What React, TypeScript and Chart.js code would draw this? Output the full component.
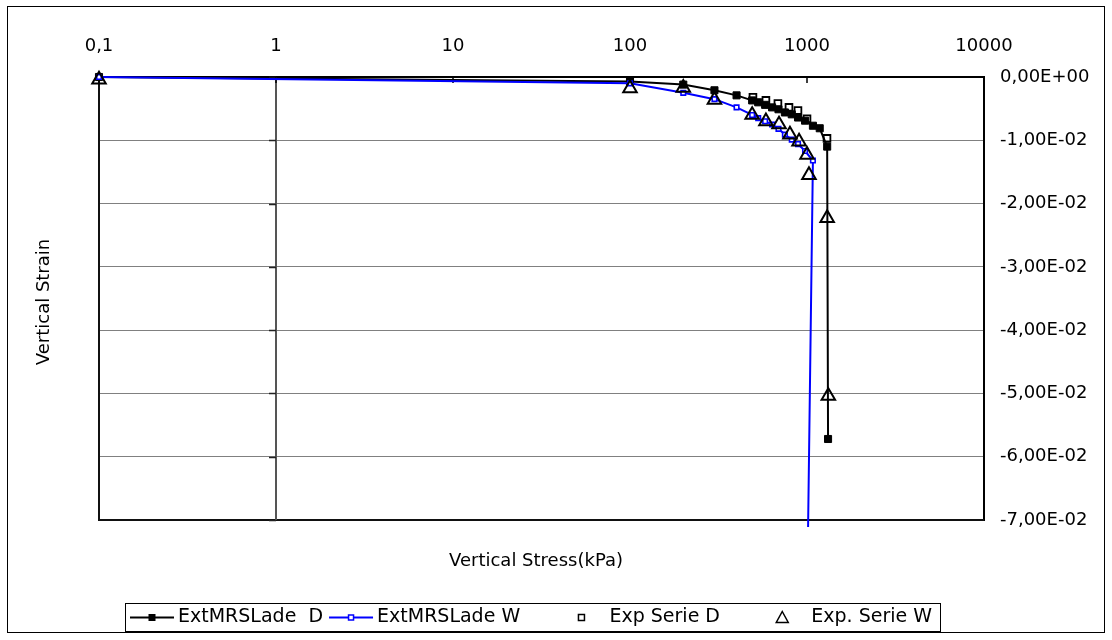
import React, { useEffect, useRef } from "react";
import { Chart, registerables } from "chart.js";

Chart.register(...registerables);

// ---- data ----
const stressD = [0.1, 100, 200, 300, 400, 490, 530, 580, 635, 690, 750, 820, 890, 975, 1080, 1180, 1300, 1315];
const strainD = [0, -0.0007, -0.0012, -0.0021, -0.0029, -0.0037, -0.004, -0.0044, -0.0048, -0.0051, -0.0056, -0.0059, -0.0064, -0.0069, -0.0077, -0.0081, -0.011, -0.0572];

const stressW = [0.1, 100, 200, 300, 400, 490, 530, 580, 635, 690, 750, 820, 890, 975, 1080, 1010];
const strainW = [0, -0.001, -0.0025, -0.0035, -0.0048, -0.006, -0.0065, -0.007, -0.0075, -0.0082, -0.0091, -0.0099, -0.0106, -0.0117, -0.0132, -0.075];

const stressExpD = [495, 586, 685, 791, 889, 1000, 1297];
const strainExpD = [-0.0032, -0.0037, -0.0042, -0.0048, -0.0053, -0.0066, -0.0097];

const stressExpW = [0.1, 100, 200, 300, 490, 586, 695, 801, 902, 1000, 1026, 1300, 1320];
const strainExpW = [-0.0004, -0.0018, -0.0017, -0.0036, -0.006, -0.007, -0.0075, -0.0091, -0.0102, -0.0123, -0.0155, -0.0223, -0.0504];

const xTickValues = [0.1, 1, 10, 100, 1000, 10000];
const xTickLabels = ["0,1", "1", "10", "100", "1000", "10000"];
const yTickValues = [0, -0.01, -0.02, -0.03, -0.04, -0.05, -0.06, -0.07];
const yTickLabels = ["0,00E+00", "-1,00E-02", "-2,00E-02", "-3,00E-02", "-4,00E-02", "-5,00E-02", "-6,00E-02", "-7,00E-02"];

const seriesLabels = ["ExtMRSLade  D", "ExtMRSLade W", "Exp Serie D", "Exp. Serie W"];
const xTitle = "Vertical Stress(kPa)";
const yTitle = "Vertical Strain";

const FONT = "18px 'DejaVu Sans'";
const LEGEND_FONT = "19px 'DejaVu Sans'";

const zip = (xs: number[], ys: number[]) => xs.map((x, i) => ({ x, y: ys[i] }));

const decorPlugin = {
  id: "decor",
  beforeDatasetsDraw(chart: any) {
    const { ctx, chartArea: a, scales } = chart;
    const xs = scales.x;
    const ys = scales.y;
    ctx.save();
    // left + bottom border of plot area
    ctx.strokeStyle = "#111";
    ctx.lineWidth = 2;
    ctx.beginPath();
    ctx.moveTo(a.left, a.top);
    ctx.lineTo(a.left, a.bottom);
    ctx.lineTo(a.right, a.bottom);
    ctx.stroke();
    // vertical axis crossing at 1
    const x1 = Math.round(xs.getPixelForValue(1));
    ctx.strokeStyle = "#555";
    ctx.lineWidth = 2;
    ctx.beginPath();
    ctx.moveTo(x1, a.top);
    ctx.lineTo(x1, a.bottom);
    ctx.stroke();
    ctx.strokeStyle = "#222";
    ctx.lineWidth = 1.5;
    ctx.beginPath();
    yTickValues.forEach((v) => {
      const y = Math.round(ys.getPixelForValue(v)) + 0.5;
      ctx.moveTo(x1 - 7, y);
      ctx.lineTo(x1, y);
    });
    ctx.stroke();
    // inward tick marks on top axis
    ctx.strokeStyle = "#000";
    ctx.lineWidth = 1.5;
    ctx.beginPath();
    xTickValues.forEach((v) => {
      const x = Math.round(xs.getPixelForValue(v));
      ctx.moveTo(x, a.top);
      ctx.lineTo(x, a.top + 6);
    });
    ctx.stroke();
    ctx.restore();
  },
  afterDraw(chart: any) {
    const { ctx, width, height } = chart;
    ctx.save();
    // outer frame
    ctx.strokeStyle = "#000";
    ctx.lineWidth = 1;
    ctx.strokeRect(0.5, 0.5, width - 1, height - 1);
    // titles
    ctx.fillStyle = "#000";
    ctx.font = FONT;
    ctx.textAlign = "center";
    ctx.textBaseline = "middle";
    ctx.fillText(xTitle, 529, 555);
    ctx.save();
    ctx.translate(37, 296);
    ctx.rotate(-Math.PI / 2);
    ctx.fillText(yTitle, 0, 0);
    ctx.restore();

    // legend box
    const lx = 118, ly = 597, lw = 815, lh = 28;
    ctx.strokeStyle = "#000";
    ctx.lineWidth = 1;
    ctx.strokeRect(lx + 0.5, ly + 0.5, lw, lh);
    ctx.font = LEGEND_FONT;
    const cy = ly + lh / 2 + 0.5;
    ctx.textAlign = "left";
    ctx.textBaseline = "middle";
    const symW = [44, 44, 12, 14];
    const symGap = [4, 4, 22, 22];
    const tw = seriesLabels.map((s) => ctx.measureText(s).width);
    const start = lx + 5;
    const end = lx + lw - 8;
    const firstGap = 6;
    const used =
      symW.reduce((p, c) => p + c, 0) + symGap.reduce((p, c) => p + c, 0) + tw.reduce((p, c) => p + c, 0) + firstGap;
    const between = (end - start - used) / 2;
    let x = start;
    for (let i = 0; i < 4; i++) {
      const sx = x;
      if (i === 0 || i === 1) {
        const col = i === 0 ? "#000" : "#0000ff";
        ctx.strokeStyle = col;
        ctx.lineWidth = 2;
        ctx.beginPath();
        ctx.moveTo(sx, cy);
        ctx.lineTo(sx + symW[i], cy);
        ctx.stroke();
        const mx = sx + symW[i] / 2;
        if (i === 0) {
          ctx.fillStyle = "#000";
          ctx.fillRect(mx - 3.5, cy - 3.5, 7, 7);
        } else {
          ctx.fillStyle = "#fff";
          ctx.lineWidth = 1.5;
          ctx.fillRect(mx - 2.5, cy - 2.5, 5, 5);
          ctx.strokeRect(mx - 2.5, cy - 2.5, 5, 5);
        }
      } else if (i === 2) {
        ctx.strokeStyle = "#000";
        ctx.lineWidth = 1.5;
        ctx.strokeRect(sx + symW[i] / 2 - 3, cy - 3, 6, 6);
      } else {
        ctx.strokeStyle = "#000";
        ctx.lineWidth = 1.5;
        const mx = sx + symW[i] / 2;
        ctx.beginPath();
        ctx.moveTo(mx, cy - 6);
        ctx.lineTo(mx + 6, cy + 5);
        ctx.lineTo(mx - 6, cy + 5);
        ctx.closePath();
        ctx.stroke();
      }
      ctx.fillStyle = "#000";
      const tx = sx + symW[i] + symGap[i];
      ctx.fillText(seriesLabels[i], tx, cy);
      x = tx + tw[i] + (i === 0 ? firstGap : between);
    }
    ctx.restore();
  },
};

export default function App() {
  const ref = useRef<HTMLCanvasElement>(null);
  useEffect(() => {
    if (!ref.current) return;
    const chart = new Chart(ref.current, {
      type: "line",
      data: {
        datasets: [
          {
            label: seriesLabels[0],
            data: zip(stressD, strainD),
            borderColor: "#000",
            borderWidth: 2,
            pointStyle: "rect",
            pointRadius: 5,
            pointBackgroundColor: "#000",
            pointBorderColor: "#000",
            pointBorderWidth: 1,
            clip: false,
            order: 3,
          },
          {
            label: seriesLabels[1],
            data: zip(stressW, strainW),
            borderColor: "#0000ff",
            borderWidth: 2,
            pointStyle: "rect",
            pointRadius: 3.2,
            pointBackgroundColor: "#fff",
            pointBorderColor: "#0000ff",
            pointBorderWidth: 1.6,
            clip: { left: 10, right: 10, top: 10, bottom: 7 },
            order: 2,
          },
          {
            label: seriesLabels[2],
            data: zip(stressExpD, strainExpD),
            showLine: false,
            pointStyle: "rect",
            pointRadius: 4.8,
            pointBackgroundColor: "rgba(0,0,0,0)",
            pointBorderColor: "#000",
            pointBorderWidth: 1.8,
            clip: false,
            order: 1,
          },
          {
            label: seriesLabels[3],
            data: zip(stressExpW, strainExpW),
            showLine: false,
            pointStyle: "triangle",
            pointRadius: 7.8,
            pointBackgroundColor: "rgba(0,0,0,0)",
            pointBorderColor: "#000",
            pointBorderWidth: 2,
            clip: false,
            order: 0,
          },
        ],
      } as any,
      options: {
        responsive: false,
        animation: false,
        events: [],
        layout: { padding: { left: 92, right: 0, top: 0, bottom: 113 } },
        plugins: { legend: { display: false }, tooltip: { enabled: false }, title: { display: false } },
        scales: {
          x: {
            type: "logarithmic",
            position: "top",
            min: 0.1,
            max: 10000,
            afterBuildTicks: (s: any) => {
              s.ticks = xTickValues.map((v) => ({ value: v }));
            },
            afterFit: (s: any) => {
              s.height = 71;
            },
            ticks: {
              autoSkip: false,
              maxRotation: 0,
              padding: 20,
              color: "#000",
              font: { family: "'DejaVu Sans'", size: 18 },
              callback: (_v: any, i: number) => xTickLabels[i],
            },
            grid: { display: false, drawTicks: false },
            border: { display: true, color: "#000", width: 2 },
          },
          y: {
            type: "linear",
            position: "right",
            min: -0.07,
            max: 0,
            afterBuildTicks: (s: any) => {
              s.ticks = yTickValues.map((v) => ({ value: v }));
            },
            afterFit: (s: any) => {
              s.width = 121;
            },
            ticks: {
              autoSkip: false,
              padding: 16,
              color: "#000",
              font: { family: "'DejaVu Sans'", size: 18 },
              callback: (_v: any, i: number) => yTickLabels[i],
            },
            grid: { color: "#808080", lineWidth: 1, drawTicks: false },
            border: { display: true, color: "#000", width: 2 },
          },
        },
      } as any,
      plugins: [decorPlugin],
    });
    return () => chart.destroy();
  }, []);
  return (
    <div style={{ position: "absolute", left: 7, top: 6, width: 1098, height: 627 }}>
      <canvas ref={ref} width={1098} height={627} style={{ width: 1098, height: 627, display: "block" }} />
    </div>
  );
}
